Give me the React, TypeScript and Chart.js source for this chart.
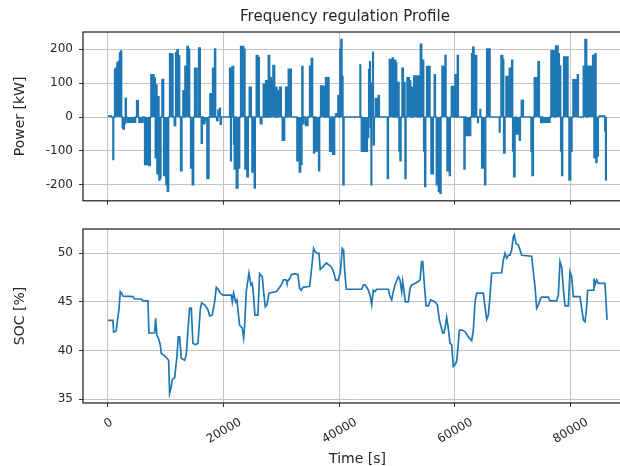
import React, { useEffect, useRef } from 'react';
import { Chart, registerables } from 'chart.js';

Chart.register(...registerables);

const FONT = 'DejaVu Sans';
const LINE = '#1f77b4';
const GRID = '#c4c4c4';
const TEXT = '#262626';

const titleText = 'Frequency regulation Profile';
const xTitle = 'Time [s]';
const powerTitle = 'Power [kW]';
const socTitle = 'SOC [%]';

const xTicks = [0, 20000, 40000, 60000, 80000];
const powerTicks = [-200, -100, 0, 100, 200];
const socTicks = [35, 40, 45, 50];

const powerTime = [
  0, 577, 865, 980, 1154, 1327, 1558, 1789, 2020, 2193, 2366, 2481, 2597, 2827, 3000, 3174, 3289,
  4328, 4789, 4962, 5251, 5366, 6059, 6347, 7097, 7328, 7443, 7963, 8193, 8309, 8482, 8655, 8828,
  9001, 9174, 9347, 9636, 9809, 10040, 10271, 10501, 10674, 11020, 11251, 11482, 11713, 11944,
  12175, 12405, 12579, 12809, 12983, 13098, 13329, 13675, 13906, 14137, 14310, 14598, 14829, 15002,
  15406, 15695, 15983, 16157, 16330, 16503, 16791, 17137, 17484, 17657, 17888, 18118, 18291, 18464,
  18638, 18811, 19042, 19330, 19446, 19619, 19792, 21061, 21234, 21350, 21465, 21754, 21869, 22042,
  22215, 22504, 22792, 22966, 23485, 23716, 23889, 24062, 24293, 24466, 24812, 24927, 25100, 25331,
  25504, 25677, 25965, 26196, 26369, 26658, 26889, 27119, 27293, 27523, 27754, 27985, 28158, 28273,
  28562, 28850, 29023, 29254, 29485, 29716, 30004, 30177, 30581, 30754, 31043, 31216, 31735, 31908,
  32716, 32890, 33120, 33351, 33582, 33755, 33928, 34217, 34621, 34909, 35198, 35429, 35602, 35775,
  36006, 36468, 36641, 36814, 37218, 37449, 37679, 37852, 38026, 38256, 38372, 38660, 38891, 39237,
  39410, 39814, 39988, 40161, 40334, 40507, 40680, 40865, 41096, 43635, 43750, 43866, 44904, 45135,
  45308, 45424, 45539, 45655, 45828, 45943, 46116, 46289, 46635, 46809, 46982, 47155, 48366, 48540,
  48713, 49232, 49405, 49636, 49809, 49982, 50155, 50386, 50559, 50732, 50905, 51136, 51309, 51425,
  51598, 51771, 52175, 52406, 52579, 52752, 52925, 53560, 53733, 53906, 54079, 54310, 54483, 54656,
  54829, 55002, 55175, 55752, 55925, 56329, 56502, 56675, 56848, 57195, 57483, 57656, 57829, 58349,
  58522, 58695, 58926, 59099, 59272, 59445, 59907, 60080, 60310, 60484, 60657, 60830, 61638, 61811,
  61984, 62792, 62965, 63138, 63368, 63599, 63830, 64003, 64118, 64407, 64522, 64696, 65215, 65388,
  65561, 65907, 66138, 66311, 67753, 67869, 68042, 68331, 68504, 68734, 68908, 69485, 69658, 69889,
  70062, 70235, 70466, 70639, 71216, 71389, 71562, 71909, 72082, 73235, 73408, 73639, 73812, 74447,
  74678, 74909, 75082, 75255, 76524, 76698, 77332, 77505, 77909, 78140, 78371, 78544, 78717, 78890,
  79640, 79813, 80101, 80332, 80505, 81255, 81428, 81601, 82293, 82582, 82870, 83043, 83909, 84140,
  84313, 84486, 84659, 84890, 85063, 86000, 86150, 86250, 86400,
];

const powerKW = [
  3, 3, 0, -125, 0, 140, 144, 160, 165, 190, 195, 0, -30, -35, -20, 55, 0,
  -15, -15, 0, 48, 0, -15, 0, -140, -143, 0, 125, 115, -120, 95, -167, 60,
  -186, -180, 0, 111, -172, -80, -200, -219, 0, 187, 185, 0, -25, 190,
  199, 180, 0, -158, 0, 78, 0, 150, 208, 200, 0, -150, -200, 0,
  144, 0, 204, 0, -77, 0, -20, -10, -181, 0, 69, 0, 144, 0,
  201, 0, -10, 20, 26, -21, 0, 0, 144, -129, 0, 149, -80, -153,
  0, -209, -150, 0, 208, 200, -153, 0, -176, 0, 88, 0, -162, 0,
  -209, 0, 182, 175, 0, -20, 0, 97, 0, 107, 0, 182, 0, 116,
  107, 152, 0, 88, 0, 78, 88, 0, -68, 0, 88, 0, 141, 0,
  0, -129, -100, -162, -140, 149, -20, 0, -25, 0, 150, 173, 0, -106,
  0, -100, -158, 0, 92, 90, 0, 116, 0, 116, 0, -101, 0, -110,
  0, 10, 64, 0, 200, 229, 120, -200, 0, 0, 154, 0, -101, -60,
  140, 163, -30, -200, 100, 191, -82, 0, 55, 0, 64, 0, 0, -181,
  0, 170, 174, 0, 168, 160, 0, 102, -100, -129, 0, 144, 0, 102,
  -181, 0, 116, 107, 0, 88, 0, 121, 0, 121, 0, 215, 150, 168,
  -100, -205, 0, 149, 0, -167, 0, 125, 0, -200, -219, -225, 0, 150,
  182, 0, -158, -100, -172, 0, 90, 0, 125, 0, 182, 0, 0, -153,
  0, -54, 0, 187, 206, 0, 182, 0, -16, 0, 22, 0, -150, -200,
  0, 201, 201, 0, 0, -44, 0, 182, 170, -106, 0, 120, 144, 0,
  168, -100, -176, 0, -50, -68, 0, 50, 0, 0, -101, -172, 0, 116,
  163, 0, -16, 0, -15, 0, 196, 0, 210, 187, 150, -100, -172, 0,
  177, 0, -186, -101, 0, 110, 125, 0, 0, 150, 229, 0, 150, 182,
  -120, 187, -134, -115, 0, 3, -40, -185, -185,
];

const socTime = [
  0, 865, 981, 1327, 1443, 1673, 1904, 2135, 2366, 2597, 4328, 4616, 5770, 6059, 6924, 7097,
  8078, 8251, 8482, 8713, 9059, 9232, 9809, 10213, 10501, 10674, 10963, 11136, 11540, 11944,
  12175, 12405, 12694, 13271, 13560, 13848, 14137, 14425, 14714, 15175, 15579, 15983, 16214,
  16733, 17310, 17599, 18060, 18464, 18753, 19099, 19445, 19907, 21349, 21522, 21753, 22099,
  22330, 22503, 22792, 23253, 23484, 23657, 23946, 24407, 24753, 24984, 25215, 25446, 25965,
  26254, 26715, 26946, 27234, 27523, 27869, 29139, 29600, 30004, 30408, 30870, 30985, 31447,
  31735, 32312, 32889, 33178, 33466, 33755, 34909, 35198, 35601, 35832, 36178, 36524, 36755,
  37217, 37794, 38255, 38659, 39063, 39409, 39813, 40217, 40563, 40794, 40967, 41256, 43924,
  44212, 44501, 44789, 45078, 45366, 45655, 45943, 46232, 46520, 48540, 48828, 49117, 49405,
  49694, 50271, 50559, 50848, 51021, 51251, 51482, 52001, 52290, 52579, 53156, 53733, 54021,
  54310, 54483, 54714, 55060, 55464, 55868, 56618, 57022, 57368, 57656, 57945, 58175, 58406,
  58637, 58868, 59214, 59503, 59791, 60080, 60368, 60657, 60830, 61234, 61811, 62388, 62965,
  63253, 63542, 63830, 64984, 65273, 65561, 65850, 66138, 66427, 68158, 68446, 68735, 69023,
  69312, 69600, 69889, 70177, 70350, 70639, 71043, 71331, 71620, 73351, 73639, 73928, 74216,
  74505, 74793, 75082, 76236, 76524, 77678, 77967, 78255, 78544, 78832, 79121, 79698, 79986,
  80275, 80563, 81717, 82005, 82294, 82582, 82871, 83044, 84025, 84140, 84313, 84602, 84890,
  86044, 86400,
];

const socPct = [
  43.1, 43.1, 41.9, 41.95, 42.1, 43.2, 44.2, 46.06, 45.9, 45.6, 45.55, 45.3, 45.3, 45.1, 45.1, 41.8,
  41.8, 43.3, 41.5, 41.3, 40.6, 39.7, 39.45, 39.2, 39.0, 35.6, 36.3, 37.0, 37.2, 39.4,
  41.4, 41.4, 39.2, 39.0, 39.55, 42.1, 44.35, 44.35, 40.75, 40.6, 40.75, 44.2, 44.9,
  44.7, 44.2, 43.55, 43.65, 45.0, 46.5, 46.3, 45.9, 45.7, 45.7, 45.0, 45.9, 45.0,
  45.2, 44.2, 42.6, 42.3, 41.3, 42.5, 46.1, 47.95, 46.75, 46.9, 45.55, 43.65, 43.65,
  47.9, 47.6, 46.06, 44.5, 44.7, 45.9, 46.06, 46.4, 46.75, 47.26, 47.26, 47.0, 47.4,
  47.8, 47.9, 47.8, 46.4, 46.2, 46.5, 46.6, 48.1, 50.5, 50.2, 50.0, 50.0, 48.35,
  48.6, 49.0, 48.8, 48.6, 48.1, 47.26, 47.2, 47.95, 50.5, 50.3, 48.3, 46.3, 46.3,
  46.75, 46.75, 46.5, 46.2, 45.7, 44.7, 46.2, 46.06, 46.3, 46.3, 45.55, 45.2, 46.06,
  46.75, 47.6, 47.26, 46.06, 47.1, 46.06, 45.0, 45.0, 46.4, 46.75, 46.9, 47.1, 47.26,
  49.15, 49.15, 47.26, 44.6, 44.6, 45.2, 45.0, 44.7, 43.15, 42.5, 41.8, 41.8, 42.5,
  43.4, 42.5, 40.75, 40.6, 38.35, 38.5, 38.9, 40.75, 42.1, 42.1, 41.95, 41.4, 41.0,
  42.1, 45.0, 45.9, 45.9, 44.5, 43.2, 43.65, 45.55, 47.95, 48.0, 49.3, 50.0, 49.5,
  49.8, 49.8, 50.35, 51.7, 51.9, 51.0, 50.85, 50.35, 49.8, 49.7, 48.1, 46.6, 44.35,
  44.7, 45.2, 45.5, 45.5, 45.1, 45.1, 45.7, 49.15, 48.6, 46.4, 44.6, 44.6, 48.1,
  47.6, 45.55, 45.55, 44.35, 43.15, 42.95, 44.5, 46.2, 46.2, 47.4, 46.75, 47.26, 46.9,
  46.9, 43.15,
];

const X_MIN = -4320;
const X_MAX = 90720;

const framePlugin = {
  id: 'frame',
  afterDraw(chart: any) {
    const { ctx, chartArea: a } = chart;
    ctx.save();
    ctx.strokeStyle = '#1a1a1a';
    ctx.lineWidth = 1.2;
    ctx.strokeRect(a.left, a.top, a.right - a.left, a.bottom - a.top);
    ctx.restore();
  },
};

const figureTitle = {
  id: 'figureTitle',
  afterDraw(chart: any) {
    const { ctx } = chart;
    ctx.save();
    ctx.font = `15px '${FONT}'`;
    ctx.fillStyle = TEXT;
    ctx.textAlign = 'center';
    ctx.textBaseline = 'middle';
    ctx.fillText(titleText, 345, 17);
    ctx.restore();
  },
};

const rotatedXLabels = {
  id: 'rotatedXLabels',
  afterDraw(chart: any) {
    const { ctx } = chart;
    const sx = chart.scales.x;
    const fs = 12;
    ctx.save();
    ctx.font = `${fs}px '${FONT}'`;
    ctx.fillStyle = TEXT;
    ctx.textAlign = 'center';
    ctx.textBaseline = 'alphabetic';
    const ang = Math.PI / 6;
    for (const v of xTicks) {
      const label = String(v);
      const w = ctx.measureText(label).width;
      const x = sx.getPixelForValue(v);
      const top = chart.chartArea.bottom + 13.4;
      const H = w * Math.sin(ang) + 9 * Math.cos(ang);
      ctx.save();
      ctx.translate(x, top + H / 2);
      ctx.rotate(-ang);
      ctx.fillText(label, 0, fs * 0.364);
      ctx.restore();
    }
    ctx.restore();
  },
};

function fixedTicks(values: number[]) {
  return (s: any) => {
    s.ticks = values.map((v) => ({ value: v }));
  };
}

function yScale(min: number, max: number, ticks: number[], title: string) {
  return {
    min,
    max,
    afterBuildTicks: fixedTicks(ticks),
    afterFit: (s: any) => {
      s.width = 83;
    },
    ticks: { color: TEXT, font: { family: FONT, size: 12 }, padding: 6 },
    grid: { color: GRID, lineWidth: 1, tickLength: 4, tickColor: '#333', tickWidth: 1 },
    border: { display: false },
    title: {
      display: true,
      text: title,
      color: TEXT,
      font: { family: FONT, size: 14 },
      padding: { top: 12, bottom: 0 },
    },
  };
}

export default function App() {
  const c1 = useRef<HTMLCanvasElement>(null);
  const c2 = useRef<HTMLCanvasElement>(null);

  useEffect(() => {
    Chart.defaults.font.family = FONT;
    const powerData = powerTime.map((t, i) => ({ x: t, y: powerKW[i] }));
    const socData = socTime.map((t, i) => ({ x: t, y: socPct[i] }));

    const ch1 = new Chart(c1.current as HTMLCanvasElement, {
      type: 'line',
      data: {
        datasets: [
          {
            data: powerData,
            borderColor: LINE,
            backgroundColor: LINE,
            borderWidth: 1.5,
            pointRadius: 0,
            stepped: 'after',
            fill: 'origin',
          },
        ],
      },
      options: {
        responsive: false,
        animation: false,
        devicePixelRatio: 1,
        parsing: false,
        layout: { padding: { left: 0, right: 58, top: 32, bottom: 0 } },
        plugins: {
          legend: { display: false },
          tooltip: { enabled: false },
          title: { display: false },
        },
        scales: {
          x: {
            type: 'linear',
            min: X_MIN,
            max: X_MAX,
            afterBuildTicks: fixedTicks(xTicks),
            afterFit: (s: any) => {
              s.height = 6;
            },
            ticks: { display: false },
            grid: { color: GRID, lineWidth: 1, tickLength: 4, tickColor: '#333', tickWidth: 1 },
            border: { display: false },
          },
          y: yScale(-247, 251, powerTicks, powerTitle) as any,
        },
      } as any,
      plugins: [framePlugin, figureTitle],
    });

    const ch2 = new Chart(c2.current as HTMLCanvasElement, {
      type: 'line',
      data: {
        datasets: [
          {
            data: socData,
            borderColor: LINE,
            borderWidth: 1.7,
            pointRadius: 0,
            tension: 0,
            fill: false,
          },
        ],
      },
      options: {
        responsive: false,
        animation: false,
        devicePixelRatio: 1,
        parsing: false,
        layout: { padding: { left: 0, right: 58, top: 15, bottom: 0 } },
        plugins: {
          legend: { display: false },
          tooltip: { enabled: false },
        },
        scales: {
          x: {
            type: 'linear',
            min: X_MIN,
            max: X_MAX,
            afterBuildTicks: fixedTicks(xTicks),
            afterFit: (s: any) => {
              s.height = 71;
            },
            ticks: { display: false },
            grid: { color: GRID, lineWidth: 1, tickLength: 4, tickColor: '#333', tickWidth: 1 },
            border: { display: false },
            title: {
              display: true,
              text: xTitle,
              color: TEXT,
              font: { family: FONT, size: 14 },
              padding: { top: 0, bottom: 6 },
            },
          },
          y: yScale(34.6, 52.5, socTicks, socTitle) as any,
        },
      } as any,
      plugins: [framePlugin, rotatedXLabels],
    });

    return () => {
      ch1.destroy();
      ch2.destroy();
    };
  }, []);

  return (
    <div
      style={{
        position: 'absolute',
        left: 0,
        top: 0,
        width: 620,
        height: 466,
        overflow: 'hidden',
        background: '#ffffff',
      }}
    >
      <canvas ref={c1} width={690} height={214} style={{ position: 'absolute', left: 0, top: 0 }} />
      <canvas ref={c2} width={690} height={260} style={{ position: 'absolute', left: 0, top: 214 }} />
    </div>
  );
}
